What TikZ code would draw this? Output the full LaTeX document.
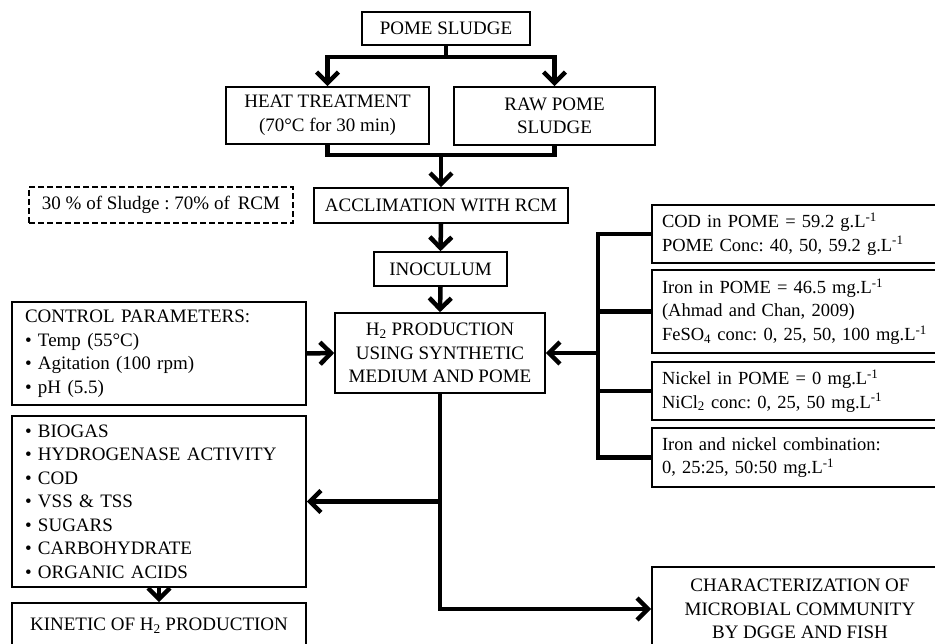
\documentclass[tikz,border=0pt]{standalone}
\usepackage{fontspec}
\setmainfont{Liberation Serif}
\usetikzlibrary{arrows.meta}
\frenchspacing
\begin{document}
\begin{tikzpicture}[x=1pt,y=-1pt,
  box/.style={draw, line width=1.6pt, rectangle, inner sep=0pt, align=center,
    font=\fontsize{19}{23.5}\selectfont},
  listbox/.style={box, align=left, inner xsep=13pt, text width=#1},
  sidebox/.style={box, align=left, inner xsep=10pt, text width=276pt,
    minimum width=296pt, font=\fontsize{18.5}{23.5}\selectfont},
  conn/.style={line width=4.5pt},
  arr/.style={conn, -{Straight Barb[length=11pt,width=22pt]}}
]
\useasboundingbox (0,0) rectangle (935,644);
\fill[white] (0,0) rectangle (935,644);
\clip (0,0) rectangle (935,644);

% main chain
\node[box, minimum width=168pt, minimum height=33pt] (pome) at (446,28.5) {POME SLUDGE};
\node[box, minimum width=203pt, minimum height=57pt] (heat) at (327.5,115.5) {HEAT TREATMENT\\(70°C for 30 min)};
\node[box, minimum width=201pt, minimum height=58pt] (raw) at (554.5,116) {RAW POME\\SLUDGE};
\node[box, dashed, dash pattern=on 6pt off 3pt, minimum width=264pt, minimum height=36pt] (ratio) at (161,205) {30 \% of Sludge : 70\% of \,RCM};
\node[box, minimum width=254pt, minimum height=35pt] (accl) at (441,205.5) {ACCLIMATION WITH RCM};
\node[box, minimum width=133pt, minimum height=34pt] (inoc) at (440.5,269) {INOCULUM};
\node[box, minimum width=210pt, minimum height=80pt] (h2) at (440,353) {H\textsubscript{2} PRODUCTION\\USING SYNTHETIC\\MEDIUM AND POME};

% left column
\node[listbox=268pt, minimum height=103pt] (ctrl) at (159,353.5) {CONTROL PARAMETERS:\\• Temp (55°C)\\• Agitation (100 rpm)\\• pH (5.5)};
\node[listbox=268pt, minimum height=171pt] (res) at (159,501.5) {• BIOGAS\\• HYDROGENASE ACTIVITY\\• COD\\• VSS \& TSS\\• SUGARS\\• CARBOHYDRATE\\• ORGANIC ACIDS};
\node[box, minimum width=294pt, minimum height=46pt] (kin) at (159,626) {KINETIC OF H\textsubscript{2} PRODUCTION};

% right column
\node[sidebox, minimum height=58pt] (cod) at (800,234) {COD in POME = 59.2 g.L\textsuperscript{-1}\\POME Conc: 40, 50, 59.2 g.L\textsuperscript{-1}};
\node[sidebox, minimum height=83pt] (iron) at (800,311.5) {Iron in POME = 46.5 mg.L\textsuperscript{-1}\\(Ahmad and Chan, 2009)\\FeSO\textsubscript{4} conc: 0, 25, 50, 100 mg.L\textsuperscript{-1}};
\node[sidebox, minimum height=58pt] (nick) at (800,391) {Nickel in POME = 0 mg.L\textsuperscript{-1}\\NiCl\textsubscript{2} conc: 0, 25, 50 mg.L\textsuperscript{-1}};
\node[sidebox, minimum height=59pt] (comb) at (800,457.5) {Iron and nickel combination:\\0, 25:25, 50:50 mg.L\textsuperscript{-1}};
\node[box, minimum width=296pt, minimum height=84pt] (char) at (800,609) {CHARACTERIZATION OF\\MICROBIAL COMMUNITY\\BY DGGE AND FISH};

% splitting and merging of the sludge streams
\coordinate (split) at (446,57);
\coordinate (merge) at (441,155);
\draw[conn] (pome.south) -- (split);
\draw[arr] (split) -| (heat.north);
\draw[arr] (split) -| (raw.north);
\draw[conn] (heat.south) |- (merge) -| (raw.south);
\draw[arr] (merge) -- (accl.north);
\draw[arr] (accl.south) -- (inoc.north);
\draw[arr] (inoc.south) -- (h2.north);
\draw[arr] (ctrl.east) -- (h2.west);

% outputs of the production stage
\draw[arr] (h2.south) |- (char.west);
\draw[arr] (h2.south |- res.east) -- (res.east);
\draw[arr] (res.south) -- (kin.north);

% bracket gathering the medium variations
\coordinate (br) at (598,353);
\draw[conn] (cod.west) -- (cod.west -| br) -- (comb.west -| br) -- (comb.west);
\draw[conn] (iron.west) -- (iron.west -| br);
\draw[conn] (nick.west) -- (nick.west -| br);
\draw[arr] (br) -- (h2.east);
\end{tikzpicture}
\end{document}
